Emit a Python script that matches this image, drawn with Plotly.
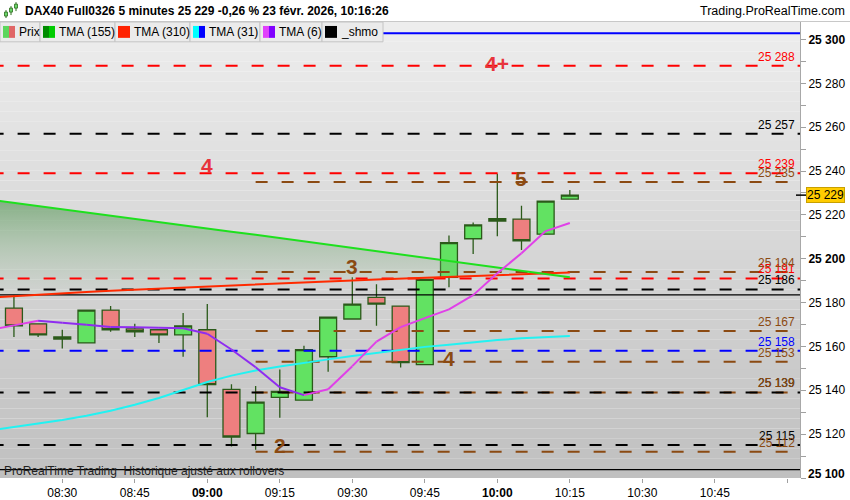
import plotly.graph_objects as go

# ---------------- data ----------------
ma_times = ["2026-02-23 08:15", "2026-02-23 08:20", "2026-02-23 08:25", "2026-02-23 08:30",
            "2026-02-23 08:35", "2026-02-23 08:40", "2026-02-23 08:45", "2026-02-23 08:50",
            "2026-02-23 08:55", "2026-02-23 09:00", "2026-02-23 09:05", "2026-02-23 09:10",
            "2026-02-23 09:15", "2026-02-23 09:20", "2026-02-23 09:25", "2026-02-23 09:30",
            "2026-02-23 09:35", "2026-02-23 09:40", "2026-02-23 09:45", "2026-02-23 09:50",
            "2026-02-23 09:55", "2026-02-23 10:00", "2026-02-23 10:05", "2026-02-23 10:10",
            "2026-02-23 10:15"]
candle_times = ma_times[1:]

opens = [25177.5, 25170.3, 25164.3, 25161.6, 25176.6, 25168.0, 25167.6, 25165.3, 25167.6, 25140.4,
         25120.3, 25136.8, 25135.5, 25155.3, 25172.5, 25182.4, 25178.4, 25151.7, 25191.5, 25209.1,
         25218.3, 25218.1, 25211.2, 25227.2]
highs = [25183.3, 25170.3, 25167.6, 25176.6, 25178.4, 25170.3, 25167.6, 25175.2, 25179.3, 25142.8,
         25141.9, 25149.5, 25160.3, 25173.4, 25191.5, 25188.4, 25178.4, 25190.6, 25210.6, 25216.5,
         25238.8, 25224.2, 25226.3, 25231.3]
lows = [25164.3, 25164.3, 25159.1, 25161.6, 25166.7, 25164.3, 25161.6, 25155.3, 25127.7, 25114.4,
        25112.9, 25127.5, 25135.5, 25148.4, 25172.5, 25169.4, 25150.4, 25151.7, 25187.0, 25202.2,
        25210.3, 25204.0, 25211.2, 25227.2]
closes = [25169.4, 25165.3, 25163.4, 25176.6, 25167.6, 25166.7, 25165.3, 25169.4, 25142.6, 25118.7,
          25134.6, 25139.5, 25158.5, 25173.4, 25179.3, 25179.3, 25152.6, 25190.6, 25207.3, 25215.4,
          25217.2, 25208.2, 25226.3, 25229.0]

tma155 = [25227.0, 25225.5, 25224.0, 25222.6, 25221.1, 25219.6, 25218.2, 25216.7, 25215.2, 25213.8,
          25212.3, 25210.9, 25209.4, 25208.1, 25206.6, 25205.1, 25203.6, 25202.1, 25200.6, 25199.0,
          25197.5, 25196.0, 25194.5, 25193.0, 25191.5]
tma310 = [25182.3, 25183.0, 25183.6, 25184.2, 25184.8, 25185.4, 25185.9, 25186.4, 25186.9, 25187.4,
          25187.9, 25188.4, 25188.8, 25189.2, 25189.6, 25190.1, 25190.5, 25190.9, 25191.3, 25191.7,
          25192.1, 25192.5, 25192.9, 25193.3, 25193.7]
tma31 = [25121.6, 25123.4, 25124.9, 25126.5, 25128.4, 25130.7, 25133.4, 25136.5, 25140.1, 25143.8,
         25146.7, 25149.0, 25150.9, 25152.6, 25154.1, 25155.6, 25157.1, 25158.6, 25159.8, 25160.8,
         25161.9, 25162.9, 25163.7, 25164.3, 25164.8]
tma6 = [25167.5, 25169.6, 25171.7, 25170.8, 25169.9, 25168.9, 25168.7, 25168.5, 25168.3, 25165.8,
        25158.6, 25150.5, 25141.4, 25137.8, 25140.5, 25151.0, 25162.2, 25168.8, 25172.9, 25176.9,
        25183.4, 25193.4, 25202.5, 25212.6, 25216.3]

red_levels = [25288, 25239, 25191]
black_levels = [25257, 25186, 25139, 25115]
brown_levels = [25235, 25194, 25167, 25153, 25139, 25112]
blue_levels = [25158]
black_solid_levels = [25183.5, 25103.8]
blue_solid_level = 25302.8
last_price = 25229.0

wave_labels = ["4+", "4", "5", "3", "4", "2"]
wave_times = ["2026-02-23 10:00", "2026-02-23 09:00", "2026-02-23 10:05",
              "2026-02-23 09:30", "2026-02-23 09:50", "2026-02-23 09:15"]
wave_values = [25289.0, 25242.4, 25236.8, 25196.6, 25154.6, 25114.8]
wave_colors = ["#e8343c", "#e8343c", "#8b4a12", "#8b4a12", "#8b4a12", "#8b4a12"]

x_tick_vals = ["2026-02-23 08:30", "2026-02-23 08:45", "2026-02-23 09:00", "2026-02-23 09:15",
               "2026-02-23 09:30", "2026-02-23 09:45", "2026-02-23 10:00", "2026-02-23 10:15",
               "2026-02-23 10:30", "2026-02-23 10:45", "2026-02-23 11:00"]
x_tick_text = ["08:30", "08:45", "<b>09:00</b>", "09:15", "09:30", "09:45", "<b>10:00</b>",
               "10:15", "10:30", "10:45", ""]
y_tick_vals = [25100, 25110, 25120, 25130, 25140, 25150, 25160, 25170, 25180, 25190, 25200,
               25210, 25220, 25230, 25240, 25250, 25260, 25270, 25280, 25290, 25300]
y_tick_text = ["", "", "25 120", "", "25 140", "", "25 160", "", "25 180", "", "<b>25 200</b>",
               "", "25 220", "", "25 240", "", "25 260", "", "25 280", "", "<b>25 300</b>"]

legend_names = ["Prix", "TMA (155)", "TMA (310)", "TMA (31)", "TMA (6)", "_shmo"]
legend_colors = [("#5cd65c", "#e06666"), ("#008c00", "#00cc00"), ("#ff2200", "#ff2200"),
                 ("#00ffff", "#0000ff"), ("#e040fb", "#8000ff"), ("#000000", "#000000")]
legend_edges = [0, 40, 115, 190, 260, 322, 383]

title_text = "DAX40 Full0326 5 minutes 25 229 -0,26 % 23 févr. 2026, 10:16:26"
site_text = "Trading.ProRealTime.com"
footer_text = "ProRealTime Trading  Historique ajusté aux rollovers"

# ---------------- layout helpers ----------------
PLOT_W, PLOT_TOP, PLOT_BOT = 800, 22, 482
Y_MIN = 25100
Y_MAX = 25100 + (PLOT_BOT - PLOT_TOP) / 2.212
X_RANGE = ["2026-02-23 08:17:07", "2026-02-23 11:02:37"]
LEVEL_START = "2026-02-23 08:10"
LEVEL_END = "2026-02-23 11:10"
BROWN_START = "2026-02-23 09:10"
FONT = "Liberation Sans, Arial, sans-serif"


def px(x):
    return x / PLOT_W


def py(y):
    return (PLOT_BOT - y) / (PLOT_BOT - PLOT_TOP)


fig = go.Figure()

# fill between TMA155 and TMA310 (base trace invisible)
fig.add_trace(go.Scatter(x=ma_times, y=tma310, mode="lines", line=dict(width=0),
                         hoverinfo="skip", showlegend=False))
fig.add_trace(go.Scatter(x=ma_times, y=tma155, mode="lines", line=dict(width=0),
                         fill="tonexty",
                         fillgradient=dict(type="vertical", start=min(tma310), stop=max(tma155),
                                           colorscale=[[0, "rgba(160,195,160,0.0)"],
                                                       [1, "rgba(105,160,105,0.75)"]]),
                         hoverinfo="skip", showlegend=False))

# candles
fig.add_trace(go.Candlestick(
    x=candle_times, open=opens, high=highs, low=lows, close=closes,
    increasing=dict(fillcolor="#62e262", line=dict(color="#2b5a1a", width=1.3)),
    decreasing=dict(fillcolor="#ee7f7f", line=dict(color="#2b5a1a", width=1.3)),
    whiskerwidth=0, hoverinfo="skip", showlegend=False))


def add_level(level, color, dash, start=LEVEL_START, width=2):
    fig.add_trace(go.Scatter(x=[start, LEVEL_END], y=[level, level], mode="lines",
                             line=dict(color=color, width=width, dash=dash),
                             hoverinfo="skip", showlegend=False))


DASH = "12px,14px"
for lv in black_solid_levels:
    add_level(lv, "#000000", "solid", width=1.2)
add_level(blue_solid_level, "#0000ff", "solid", width=2)
for lv in brown_levels:
    add_level(lv, "#8b4a12", DASH, start=BROWN_START)
for lv in black_levels:
    add_level(lv, "#000000", DASH)
for lv in blue_levels:
    add_level(lv, "#0000ff", DASH)
for lv in red_levels:
    add_level(lv, "#ff0000", DASH)

# moving averages
fig.add_trace(go.Scatter(x=ma_times, y=tma310, mode="lines", line=dict(color="#ff2a00", width=2),
                         hoverinfo="skip", showlegend=False))
fig.add_trace(go.Scatter(x=ma_times, y=tma155, mode="lines", line=dict(color="#1ee01e", width=2),
                         hoverinfo="skip", showlegend=False))
fig.add_trace(go.Scatter(x=ma_times, y=tma31, mode="lines", line=dict(color="#22f2f2", width=2),
                         hoverinfo="skip", showlegend=False))

up_x, up_y, dn_x, dn_y = [], [], [], []
for i in range(len(tma6) - 1):
    seg_x = [ma_times[i], ma_times[i + 1], None]
    seg_y = [tma6[i], tma6[i + 1], None]
    if tma6[i + 1] >= tma6[i]:
        up_x += seg_x
        up_y += seg_y
    else:
        dn_x += seg_x
        dn_y += seg_y
fig.add_trace(go.Scatter(x=dn_x, y=dn_y, mode="lines", line=dict(color="#8f2cf0", width=2),
                         hoverinfo="skip", showlegend=False))
fig.add_trace(go.Scatter(x=up_x, y=up_y, mode="lines", line=dict(color="#e040e8", width=2),
                         hoverinfo="skip", showlegend=False))

shapes = []
# background gradient bands
n_bands = 46
for k in range(n_bands):
    f = (k + 0.5) / n_bands
    g = int(round(237 - 45 * f))
    shapes.append(dict(type="rect", xref="paper", yref="paper", x0=0, x1=1,
                       y0=1 - (k + 1) / n_bands, y1=1 - k / n_bands,
                       fillcolor=f"rgb({g},{g},{g})", line=dict(width=0), layer="below"))

# header separator
shapes.append(dict(type="line", xref="paper", yref="paper", x0=0, x1=850 / PLOT_W,
                   y0=py(21.5), y1=py(21.5), line=dict(color="#c8c8c8", width=1), layer="above"))

# legend row boxes
for i, name in enumerate(legend_names):
    x0, x1 = legend_edges[i], legend_edges[i + 1]
    shapes.append(dict(type="rect", xref="paper", yref="paper", x0=px(x0), x1=px(x1),
                       y0=py(42), y1=py(22), fillcolor="#ebebeb",
                       line=dict(color="#c4c4c4", width=1), layer="above"))
    cl, cr = legend_colors[i]
    shapes.append(dict(type="rect", xref="paper", yref="paper", x0=px(x0 + 3), x1=px(x0 + 9),
                       y0=py(38), y1=py(26), fillcolor=cl, line=dict(width=0), layer="above"))
    shapes.append(dict(type="rect", xref="paper", yref="paper", x0=px(x0 + 9), x1=px(x0 + 15),
                       y0=py(38), y1=py(26), fillcolor=cr, line=dict(width=0), layer="above"))

# header candle icon
for cx, wt, wb, bt, bb in [(6, 10, 18, 12, 16), (11, 6, 15, 8, 12), (16, 2, 11, 4, 8)]:
    shapes.append(dict(type="line", xref="paper", yref="paper", x0=px(cx), x1=px(cx),
                       y0=py(wb), y1=py(wt), line=dict(color="#2b6a1a", width=1), layer="above"))
    shapes.append(dict(type="rect", xref="paper", yref="paper", x0=px(cx - 1.5), x1=px(cx + 1.5),
                       y0=py(bb), y1=py(bt), fillcolor="#6ad66a",
                       line=dict(color="#2b6a1a", width=0.8), layer="above"))

# last price marker tick
shapes.append(dict(type="line", xref="paper", yref="y", x0=px(796), x1=px(806),
                   y0=last_price, y1=last_price, line=dict(color="#000000", width=1.5),
                   layer="above"))

annotations = []
# level labels on the right
level_labels = ([(lv, "#ff0000") for lv in red_levels] + [(lv, "#000000") for lv in black_levels]
                + [(lv, "#8b4a12") for lv in brown_levels] + [(lv, "#0000ff") for lv in blue_levels])
for lv, col in level_labels:
    annotations.append(dict(xref="paper", yref="y", x=px(797), y=lv, xanchor="right",
                            yanchor="bottom", text=f"{int(lv) // 1000} {int(lv) % 1000:03d}",
                            showarrow=False, font=dict(family=FONT, size=12, color=col)))

# wave labels
for t, v, s, c in zip(wave_times, wave_values, wave_labels, wave_colors):
    annotations.append(dict(x=t, y=v, xref="x", yref="y", text=f"<b>{s}</b>", showarrow=False,
                            xanchor="center", yanchor="middle",
                            font=dict(family=FONT, size=21, color=c)))

# last price box
annotations.append(dict(xref="paper", yref="y", x=px(806), y=last_price, xanchor="left",
                        yanchor="middle", text="25 229", showarrow=False, bgcolor="#ffcc00",
                        bordercolor="#c8a000", borderwidth=1, borderpad=0,
                        font=dict(family=FONT, size=12, color="#000000")))
# bottom y label
annotations.append(dict(xref="paper", yref="y", x=px(806), y=Y_MIN, xanchor="left",
                        yanchor="bottom", yshift=-5, text="<b>25 100</b>", showarrow=False,
                        font=dict(family=FONT, size=12, color="#000000")))

# legend texts
for i, name in enumerate(legend_names):
    annotations.append(dict(xref="paper", yref="paper", x=px(legend_edges[i] + 17), y=py(32),
                            xanchor="left", yanchor="middle", text=name, showarrow=False,
                            font=dict(family=FONT, size=12, color="#000000")))

# header texts
annotations.append(dict(xref="paper", yref="paper", x=px(23), y=py(10.5), xanchor="left",
                        yanchor="middle", text=f"<b>{title_text}</b>", showarrow=False,
                        font=dict(family=FONT, size=12, color="#000000")))
annotations.append(dict(xref="paper", yref="paper", x=px(847), y=py(11), xanchor="right",
                        yanchor="middle", text=site_text, showarrow=False,
                        font=dict(family=FONT, size=12.5, color="#000000")))
annotations.append(dict(xref="paper", yref="paper", x=px(2), y=py(475), xanchor="left",
                        yanchor="middle", text=footer_text, showarrow=False,
                        font=dict(family=FONT, size=12, color="#222222")))

fig.update_layout(
    width=850, height=500, autosize=False,
    margin=dict(l=0, r=850 - PLOT_W, t=PLOT_TOP, b=500 - PLOT_BOT, pad=0),
    paper_bgcolor="#ffffff", plot_bgcolor="rgba(0,0,0,0)",
    showlegend=False, hovermode=False,
    boxgap=0.3, boxgroupgap=0,
    font=dict(family=FONT, size=12, color="#000000"),
    shapes=shapes, annotations=annotations,
    xaxis=dict(type="date", range=X_RANGE, rangeslider=dict(visible=False),
               tickmode="array", tickvals=x_tick_vals, ticktext=x_tick_text,
               ticks="outside", ticklen=4, tickcolor="#a0a0a0", showgrid=False,
               showline=False, zeroline=False, tickfont=dict(size=12, color="#000000"),
               fixedrange=True),
    yaxis=dict(side="right", range=[Y_MIN, Y_MAX], tickmode="array", tickvals=y_tick_vals,
               ticktext=y_tick_text, ticks="outside", ticklen=5, tickcolor="#a0a0a0",
               showgrid=False, zeroline=False, showline=True, linecolor="#a8a8a8",
               linewidth=1, tickfont=dict(size=12, color="#000000"), fixedrange=True),
)

fig.write_html("out.html", config={"displayModeBar": False},
               post_script="document.body.style.margin='0';document.body.style.overflow='hidden';")
